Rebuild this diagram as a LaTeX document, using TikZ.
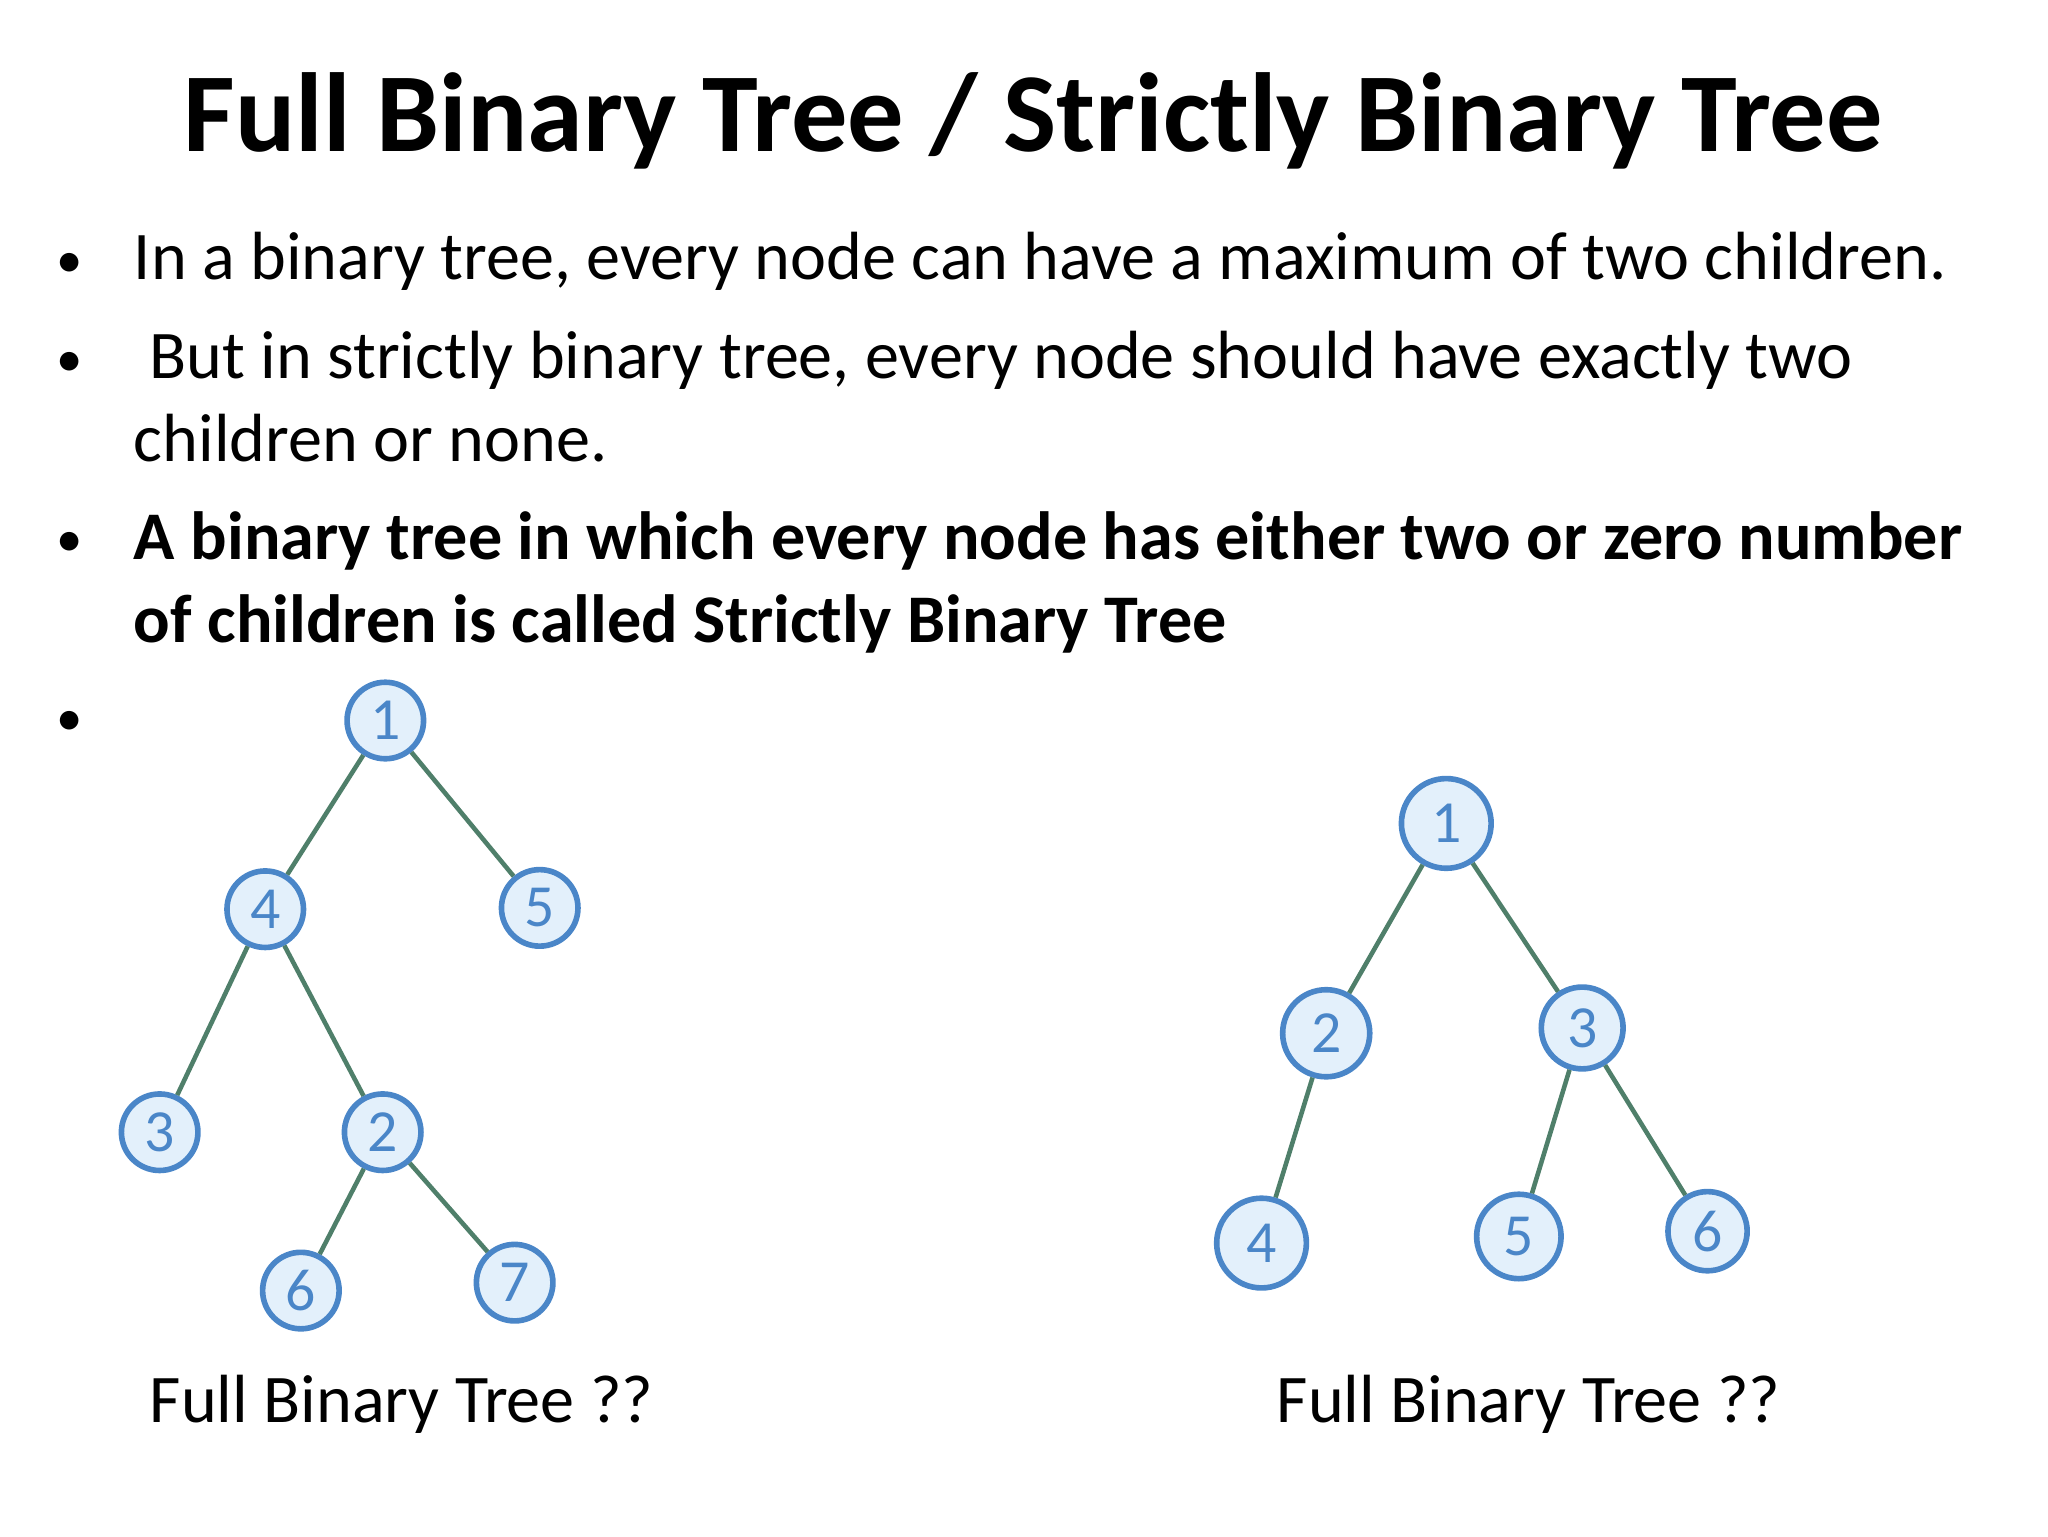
\documentclass[tikz,border=0pt]{standalone}
\usepackage{fontspec}
\setmainfont{Carlito}
\definecolor{cb}{HTML}{4A86C8}
\definecolor{cf}{HTML}{E3F0FB}
\definecolor{ce}{HTML}{4F7F6A}
\begin{document}
\begin{tikzpicture}[x=0.013196cm,y=-0.013196cm,
  tn/.style={circle,draw=cb,fill=cf,line width=1.6pt,minimum size=58*0.13196cm/10,inner sep=0pt,font=\fontsize{17}{17}\selectfont,text=cb},
  ed/.style={draw=ce,line width=1.3pt},
  bt/.style={anchor=base west,inner sep=0pt,font=\fontsize{19.4}{22}\selectfont},
  bul/.style={anchor=base west,inner sep=0pt,font=\fontsize{15}{15}\selectfont}]
\useasboundingbox (0,0) rectangle (1552,1164);
\node[font=\fontsize{32}{40}\selectfont\bfseries,anchor=base,inner sep=0pt] (t) at (783,115) {Full Binary Tree / Strictly Binary Tree};
\node[bul] (b1) at (42,210) {•};
\node[bt] (l1) at (101,212) {In a binary tree, every node can have a maximum of two children.};
\node[bul] (b2) at (42,285) {•};
\node[bt] (l2) at (101,287) {\ But in strictly binary tree, every node should have exactly two};
\node[bt] (l2b) at (101,350) {children or none.};
\node[bul] (b3) at (42,422) {•};
\node[bt,font=\fontsize{19.4}{22}\selectfont\bfseries] (l3) at (101,424) {A binary tree in which every node has either two or zero number};
\node[bt,font=\fontsize{19.4}{22}\selectfont\bfseries] (l3b) at (101,487) {of children is called Strictly Binary Tree};
\node[bul] (b4) at (42,557) {•};
% left tree
\node[tn] (a1) at (292,546) {1};
\node[tn] (a4) at (201,689) {4};
\node[tn] (a5) at (409,688) {5};
\node[tn] (a3) at (121,858) {3};
\node[tn] (a2) at (290,858) {2};
\node[tn] (a6) at (228,978) {6};
\node[tn] (a7) at (390,972) {7};
\draw[ed] (a1)--(a4); \draw[ed] (a1)--(a5);
\draw[ed] (a4)--(a3); \draw[ed] (a4)--(a2);
\draw[ed] (a2)--(a6); \draw[ed] (a2)--(a7);
% right tree
\node[tn,minimum size=68*0.13196cm/10] (r1) at (1096,624) {1};
\node[tn,minimum size=66*0.13196cm/10] (r2) at (1005,783) {2};
\node[tn,minimum size=62*0.13196cm/10] (r3) at (1199,779) {3};
\node[tn,minimum size=68*0.13196cm/10] (r4) at (956,942) {4};
\node[tn,minimum size=64*0.13196cm/10] (r5) at (1151,937) {5};
\node[tn,minimum size=60*0.13196cm/10] (r6) at (1294,933) {6};
\draw[ed] (r1)--(r2); \draw[ed] (r1)--(r3);
\draw[ed] (r2)--(r4);
\draw[ed] (r3)--(r5); \draw[ed] (r3)--(r6);
\node[bt] (c1) at (113,1078) {Full Binary Tree ??};
\node[bt] (c2) at (967,1078) {Full Binary Tree ??};
\end{tikzpicture}
\end{document}
